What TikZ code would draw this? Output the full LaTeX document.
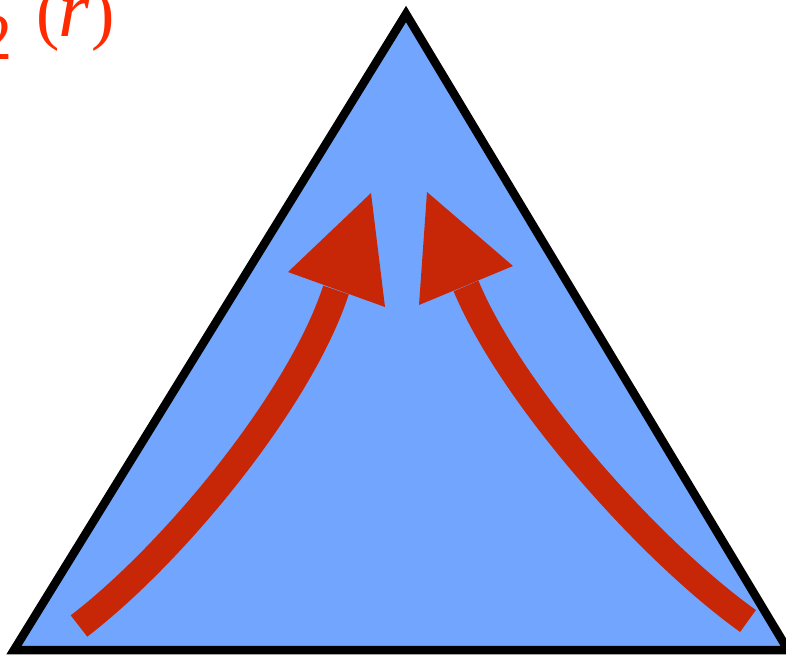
\documentclass[tikz,border=0pt]{standalone}
\usepackage{fontspec}
\newfontfamily\labelfont{Liberation Serif}
\definecolor{triblue}{HTML}{72A6FE}
\definecolor{arrred}{HTML}{C72706}
\definecolor{labred}{HTML}{FF2A00}
\tikzset{
  shaft/.style={draw=arrred, line width=27pt, line cap=butt},
  headtri/.style={fill=arrred, draw=none},
  tri/.style={fill=triblue, draw=black, line width=8.5pt, line join=miter}
}
\begin{document}
\begin{tikzpicture}[x=1pt,y=-1pt]
\useasboundingbox (0,0) rectangle (786,658);
\clip (0,0) rectangle (786,658);
% triangle
\coordinate (apex) at (406,14);
\coordinate (bl) at (14,650);
\coordinate (br) at (788,650);
\draw[tri] (apex) -- (bl) -- (br) -- cycle;
% left arrow
\coordinate (ltail) at (79,626);
\coordinate (lbase) at (336,290);
\draw[shaft] (ltail) .. controls (174,553) and (300,400) .. (lbase);
\coordinate (ltip) at (371,193);
\coordinate (ll) at (288,272);
\coordinate (lr) at (385,307);
\fill[headtri] (ltip) -- (ll) -- (lr) -- cycle;
% right arrow
\coordinate (rtail) at (748,621);
\coordinate (rbase) at (466,286);
\draw[shaft] (rtail) .. controls (650,551) and (512,396) .. (rbase);
\coordinate (rtip) at (427,192);
\coordinate (rl) at (419,305);
\coordinate (rr) at (513,266);
\fill[headtri] (rtip) -- (rl) -- (rr) -- cycle;
% label
\node[anchor=base east, inner sep=0pt, text=labred, font=\labelfont] (lab) at (115,37)
  {\raisebox{-23pt}{\fontsize{66}{66}\selectfont 2}\hspace{24pt}{\fontsize{70}{70}\selectfont(\kern-2pt{\fontsize{80}{80}\selectfont\textit{r}}\kern2pt)}};
\end{tikzpicture}
\end{document}
